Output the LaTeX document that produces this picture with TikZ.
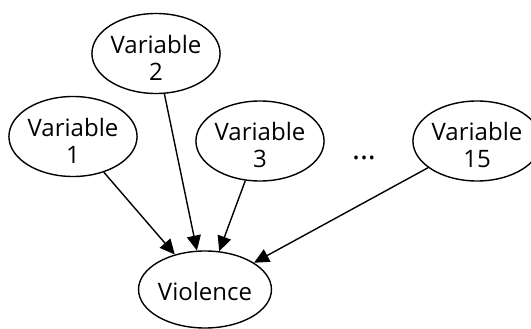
\documentclass[tikz,border=0pt]{standalone}
\usepackage{fontspec}
\setmainfont{Open Sans}
\usetikzlibrary{shapes.geometric,arrows.meta}
\begin{document}
\begin{tikzpicture}[x=1pt,y=-1pt,
  var/.style={ellipse,draw=black,line width=1.4pt,minimum width=122pt,minimum height=80pt,inner sep=0pt,align=center,font=\fontsize{24}{27}\selectfont},
  conn/.style={line width=1.4pt,-{Triangle[length=15pt,width=14pt]}}]
\useasboundingbox (0,0) rectangle (531,329);
\node[var] (v1) at (73,136.5) {\rule{0pt}{27pt}Variable\\1};
\node[var] (v2) at (156,53.5) {\rule{0pt}{27pt}Variable\\2};
\node[var] (v3) at (260,141) {\rule{0pt}{27pt}Variable\\3};
\node[var] (v15) at (477,141) {\rule{0pt}{27pt}Variable\\15};
\node[font=\fontsize{30}{30}\selectfont] (dots) at (364,158) {...};
\node[var,minimum width=124pt,minimum height=77pt] (viol) at (205,289.5) {\rule{0pt}{23pt}Violence};
\draw[conn] (v1) -- (viol);
\draw[conn] (v2) -- (viol);
\draw[conn] (v3) -- (viol);
\draw[conn] (v15) -- (viol);
\end{tikzpicture}
\end{document}
